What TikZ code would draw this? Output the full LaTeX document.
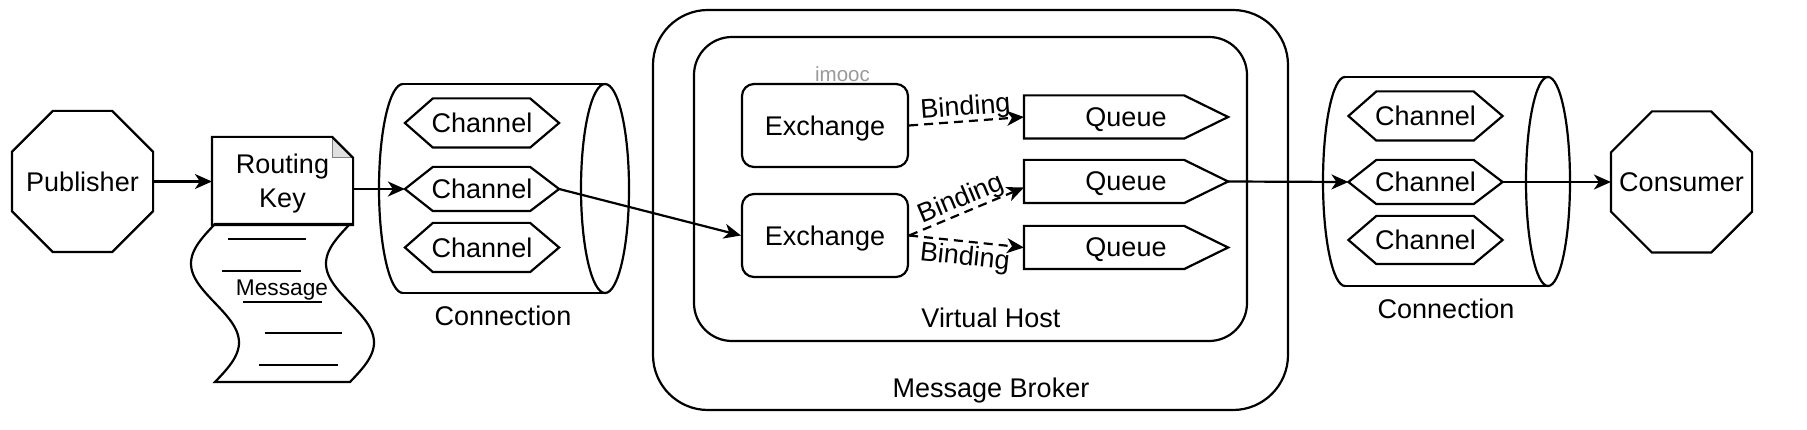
\documentclass[tikz,border=0pt]{standalone}
\usepackage{fontspec}
\setmainfont{Liberation Sans}
\usetikzlibrary{arrows.meta}

\newcommand\mychan[4]{%
  \node[minimum width=152pt, minimum height=#4pt] (#1) at (#2,#3) {Channel};
  \draw (#1.west) -- ([xshift=28pt]#1.north west) -- ([xshift=-29pt]#1.north east) -- (#1.east) -- ([xshift=-29pt]#1.south east) -- ([xshift=28pt]#1.south west) -- cycle;}
\newcommand\myqueue[2]{%
  \node[minimum width=202pt, minimum height=41pt] (#1) at (1126,#2) {Queue};
  \draw (#1.north west) -- ([xshift=-44pt]#1.north east) -- (#1.east) -- ([xshift=-44pt]#1.south east) -- (#1.south west) -- cycle;}
\newcommand\myocta[4]{%
  \node[minimum width=139pt, minimum height=139pt] (#1) at (#2,#3) {#4};
  \draw ([xshift=41pt]#1.north west) -- ([xshift=-41pt]#1.north east) -- ([yshift=-41pt]#1.north east) -- ([yshift=41pt]#1.south east) -- ([xshift=-41pt]#1.south east) -- ([xshift=41pt]#1.south west) -- ([yshift=41pt]#1.south west) -- ([yshift=-41pt]#1.north west) -- cycle;}

\begin{document}
\begin{tikzpicture}[x=1pt,y=-1pt,
  line width=2.2pt,
  every node/.style={font=\fontsize{27}{32}\selectfont, inner sep=0pt, text depth=0pt},
  arr/.style={-{Stealth[length=17pt,width=15pt,inset=5pt]}},
  darr/.style={arr, dash pattern=on 9pt off 6pt},
  exch/.style={draw, rounded corners=12pt, minimum width=166pt, minimum height=83pt},
  blab/.style={sloped, font=\fontsize{27}{32}\selectfont}
]
\fill[white] (0,0) rectangle (1807,430);
\useasboundingbox (0,0) rectangle (1807,430);

% Message Broker and Virtual Host
\draw[rounded corners=55pt] (653,10) rectangle (1288,410);
\draw[rounded corners=38pt] (694,37) rectangle (1247,341);
\node (vhlbl) at (991,318) {Virtual Host};
\node (mblbl) at (991,388) {Message Broker};

% Publisher and Consumer
\myocta{pub}{82.5}{181.5}{Publisher}
\myocta{con}{1681.5}{182}{Consumer}

% Message (wavy sheet)
\draw[fill=white] plot[domain=224:382, samples=60] ({215-24*sin(2.27848*(\x-224))}, \x)
  -- plot[domain=382:224, samples=60] ({350-24*sin(2.27848*(\x-224))}, \x) -- cycle;
\draw (228,239) -- (306,239);
\draw (222,271) -- (301,271);
\draw (243,302) -- (322,302);
\draw (265,333) -- (342,333);
\draw (259,365) -- (338,365);
\node[font=\fontsize{22.7}{26}\selectfont, anchor=base] (msg) at (282,296) {Message};

% Routing Key note
\node[minimum width=139pt, minimum height=86pt, align=center, font=\fontsize{27}{34}\selectfont] (rk) at (282.5,181) {Routing\\Key};
\fill[black!12] ([xshift=-21pt]rk.north east) -- ([xshift=-21pt,yshift=-21pt]rk.north east) -- ([yshift=-21pt]rk.north east) -- cycle;
\draw[line width=0.8pt, black!50] ([xshift=-21pt]rk.north east) -- ([xshift=-21pt,yshift=-21pt]rk.north east) -- ([yshift=-21pt]rk.north east);
\draw (rk.north west) -- ([xshift=-21pt]rk.north east) -- ([yshift=-21pt]rk.north east) -- (rk.south east) -- (rk.south west) -- cycle;

% Left connection cylinder
\coordinate (conn1) at (504,188.5);
\draw (403,84) -- (605,84) (403,293) -- (605,293);
\draw (403,84) arc[start angle=90, end angle=270, x radius=24pt, y radius=104.5pt];
\draw (605,188.5) ellipse [x radius=24pt, y radius=104.5pt];
\node (conn1lbl) at (503,316) {Connection};
\mychan{lch1}{482}{123}{47}
\mychan{lch2}{482}{189}{42}
\mychan{lch3}{482}{247.5}{47}

% Right connection cylinder
\coordinate (conn2) at (1446,181.5);
\draw (1345,77) -- (1548,77) (1345,286) -- (1548,286);
\draw (1345,77) arc[start angle=90, end angle=270, x radius=22pt, y radius=104.5pt];
\draw (1548,181.5) ellipse [x radius=22pt, y radius=104.5pt];
\node (conn2lbl) at (1446,309) {Connection};
\mychan{rch1}{1425.5}{116}{47}
\mychan{rch2}{1425.5}{182}{42}
\mychan{rch3}{1425.5}{240}{46}

% Exchanges and queues
\node[exch] (ex1) at (825,125.5) {Exchange};
\node[exch] (ex2) at (825,235.5) {Exchange};
\node[font=\fontsize{20.5}{24}\selectfont, text=black!40, anchor=base] (wm) at (842.5,81.5) {imooc};
\myqueue{q1}{117}
\myqueue{q2}{181.5}
\myqueue{q3}{247.5}

% Connectors
\draw[arr] (pub.east) -- (pub.east -| rk.west);
\draw[arr] (rk.east |- lch2.west) -- (lch2.west);
\draw[arr] (lch2.east) -- (ex2.west);
\draw[darr] (ex1.east) -- node[blab, above, inner sep=5pt] {Binding} (q1.west);
\draw[darr] (ex2.east) -- node[blab, above, inner sep=5pt] {Binding} ([yshift=-6pt]q2.west);
\draw[darr] (ex2.east) -- node[blab, below, inner sep=3pt] {Binding} (q3.west);
\draw[arr] (q2.east) -- (rch2.west);
\draw[arr] (rch2.east) -- (con.west);
\end{tikzpicture}
\end{document}
